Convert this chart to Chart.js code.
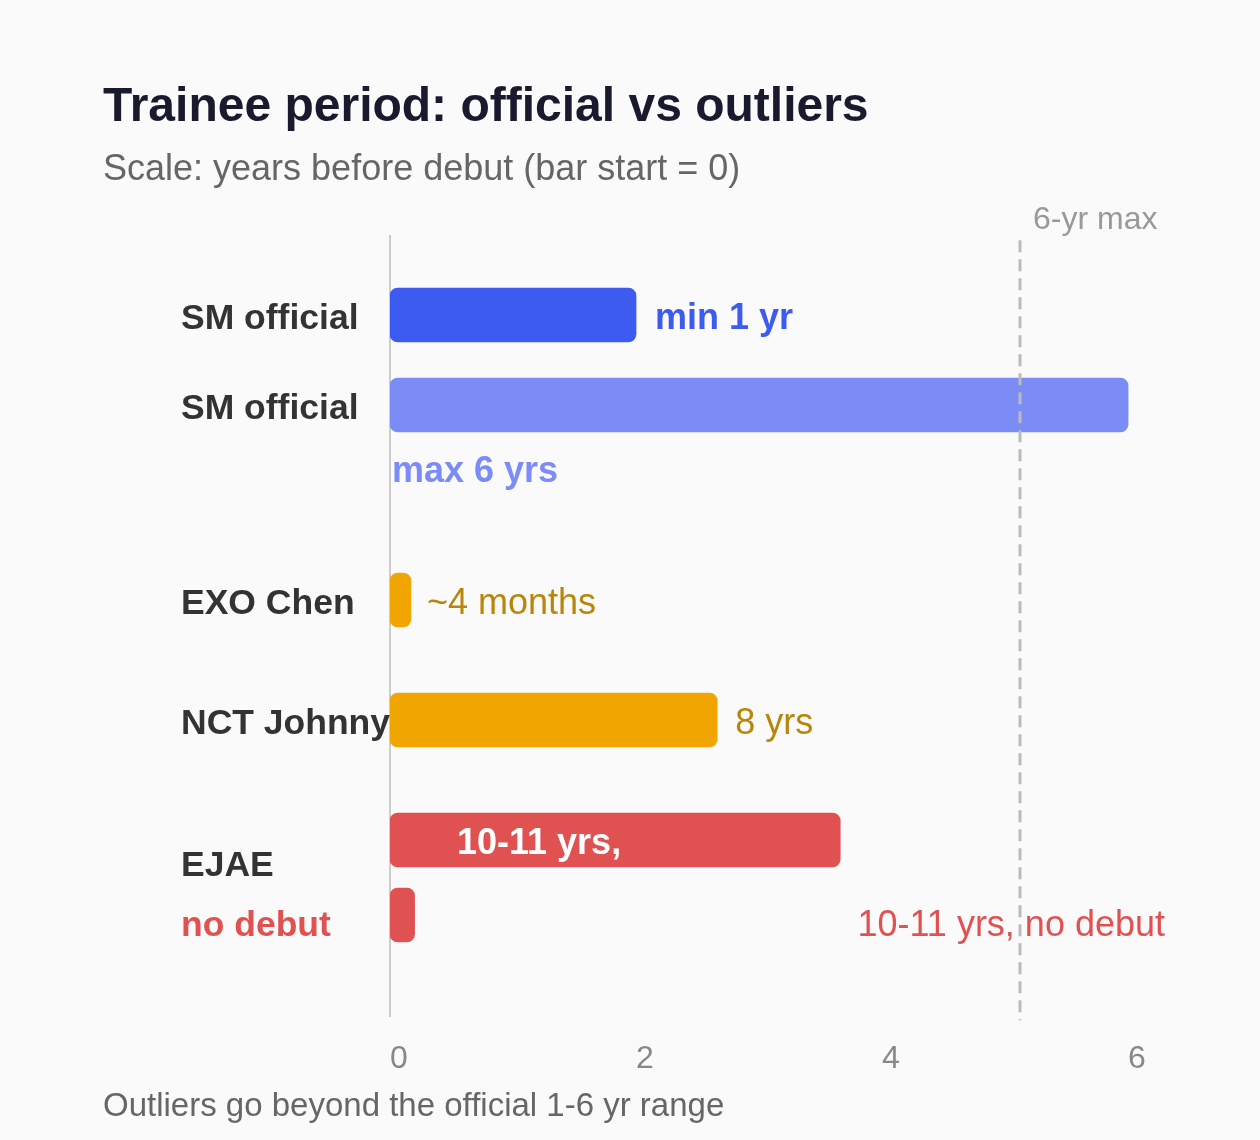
<!DOCTYPE html>
<html>
<head>
<meta charset="utf-8">
<script src="https://cdn.jsdelivr.net/npm/chart.js@4.4.1/dist/chart.umd.min.js"></script>
<style>
  html, body { margin: 0; padding: 0; background: #fafafa; }
  canvas { display: block; }
</style>
</head>
<body>
<canvas id="c" width="1260" height="1140"></canvas>
<script>
// ---- data ----
const categories = ["SM official", "SM official", "EXO Chen", "NCT Johnny", "EJAE", "no debut"];
const years = [2, 6, 0.17, 2.66, 3.66, 0.2];
const valueLabels = ["min 1 yr", "max 6 yrs", "~4 months", "8 yrs", "10-11 yrs,", "10-11 yrs, no debut"];
const xTicks = [0, 2, 4, 6];
const xMax = 6.3;
const maxMarker = 5.12;
const maxMarkerLabel = "6-yr max";
const titleText = "Trainee period: official vs outliers";
const subtitleText = "Scale: years before debut (bar start = 0)";
const footerText = "Outliers go beyond the official 1-6 yr range";

// ---- layout / styles ----
const FONT = "'Liberation Sans', Arial, Helvetica, sans-serif";
const SLOT_COUNT = 104;
const barSlots = [10, 22, 48, 64, 80, 90];
const labelSlots = [10, 22, 48, 64, 83, 91];
const barColors = ["#3d5af1", "#7b8cf7", "#f0a500", "#f0a500", "#e05252", "#e05252"];
const catColors = ["#333333", "#333333", "#333333", "#333333", "#333333", "#e05252"];
const valueStyles = [
  { place: "right", dx: 19, dy: 0, color: "#3d5af1", weight: "bold" },
  { place: "below", dx: 2, dy: 63, color: "#7b8cf7", weight: "bold" },
  { place: "right", dx: 16, dy: 0, color: "#b8860b", weight: "normal" },
  { place: "right", dx: 18, dy: 0, color: "#b8860b", weight: "normal" },
  { place: "inside", dx: 67, dy: 0, color: "#ffffff", weight: "bold" },
  { place: "edge", dx: 0, dy: 7, color: "#e05252", weight: "normal" }
];

const slotLabels = Array.from({ length: SLOT_COUNT }, () => "");
const slotCat = Array.from({ length: SLOT_COUNT }, () => -1);
categories.forEach((c, i) => { slotLabels[labelSlots[i]] = c; slotCat[labelSlots[i]] = i; });
const slotValues = Array.from({ length: SLOT_COUNT }, () => null);
const slotBar = Array.from({ length: SLOT_COUNT }, () => -1);
years.forEach((v, i) => { slotValues[barSlots[i]] = v; slotBar[barSlots[i]] = i; });

const bgPlugin = {
  id: "bg",
  beforeDraw(chart) {
    const ctx = chart.ctx;
    ctx.save();
    ctx.fillStyle = "#fafafa";
    ctx.fillRect(0, 0, chart.width, chart.height);
    ctx.restore();
  }
};

const textPlugin = {
  id: "texts",
  afterDraw(chart) {
    const ctx = chart.ctx;
    ctx.save();
    ctx.textAlign = "left";
    ctx.textBaseline = "alphabetic";
    ctx.fillStyle = "#1a1a2e";
    ctx.font = "bold 48px " + FONT;
    ctx.fillText(titleText, 103, 121);
    ctx.fillStyle = "#666666";
    ctx.font = "36px " + FONT;
    ctx.fillText(subtitleText, 103, 180);
    ctx.font = "33px " + FONT;
    ctx.fillText(footerText, 103, 1116);
    ctx.restore();
  }
};

const markerPlugin = {
  id: "marker",
  afterDatasetsDraw(chart) {
    const ctx = chart.ctx;
    const xs = chart.scales.x;
    const area = chart.chartArea;
    const px = Math.round(xs.getPixelForValue(maxMarker));
    ctx.save();
    ctx.strokeStyle = "#bbbbbb";
    ctx.lineWidth = 3;
    ctx.setLineDash([12, 7]);
    ctx.beginPath();
    ctx.moveTo(px, area.top + 4);
    ctx.lineTo(px, area.bottom + 4);
    ctx.stroke();
    ctx.setLineDash([]);
    ctx.fillStyle = "#999999";
    ctx.font = "32px " + FONT;
    ctx.textAlign = "left";
    ctx.textBaseline = "alphabetic";
    ctx.fillText(maxMarkerLabel, px + 13, 229);
    ctx.restore();
  }
};

const valuePlugin = {
  id: "values",
  afterDatasetsDraw(chart) {
    const ctx = chart.ctx;
    const meta = chart.getDatasetMeta(0);
    const area = chart.chartArea;
    ctx.save();
    ctx.textBaseline = "middle";
    barSlots.forEach((slot, i) => {
      const bar = meta.data[slot];
      const s = valueStyles[i];
      ctx.fillStyle = s.color;
      ctx.font = s.weight + " 36px " + FONT;
      let x, align = "left";
      if (s.place === "right") x = bar.x + s.dx;
      else if (s.place === "below") x = bar.base + s.dx;
      else if (s.place === "inside") x = bar.base + s.dx;
      else { x = area.right; align = "right"; }
      ctx.textAlign = align;
      ctx.fillText(valueLabels[i], x, bar.y + s.dy + 4);
    });
    ctx.restore();
  }
};

new Chart(document.getElementById("c"), {
  type: "bar",
  data: {
    labels: slotLabels,
    datasets: [{
      data: slotValues,
      backgroundColor: (c) => { const k = slotBar[c.dataIndex]; return k >= 0 ? barColors[k] : "transparent"; },
      borderRadius: 8,
      borderSkipped: false,
      barThickness: 54
    }]
  },
  options: {
    indexAxis: "y",
    responsive: false,
    animation: false,
    devicePixelRatio: 1,
    layout: { padding: { left: 181, top: 236.25, right: 95, bottom: 63.75 } },
    plugins: { legend: { display: false }, tooltip: { enabled: false }, title: { display: false } },
    scales: {
      x: {
        type: "linear",
        min: 0,
        max: xMax,
        grid: { display: false, drawTicks: false },
        border: { display: false },
        afterBuildTicks(scale) { scale.ticks = xTicks.map(v => ({ value: v })); },
        afterFit(scale) { scale.height = 60; },
        ticks: {
          align: "start",
          padding: 24,
          color: "#888888",
          font: { family: FONT, size: 32 }
        }
      },
      y: {
        type: "category",
        offset: true,
        grid: { display: false, drawTicks: false },
        border: { display: true, color: "#cccccc", width: 2 },
        afterFit(scale) { scale.width = 209; },
        ticks: {
          autoSkip: false,
          crossAlign: "far",
          padding: 0,
          labelOffset: 4,
          color: (c) => { const k = slotCat[c.index]; return k >= 0 ? catColors[k] : "#333333"; },
          font: { family: FONT, size: 35.5, weight: "bold" }
        }
      }
    }
  },
  plugins: [bgPlugin, markerPlugin, valuePlugin, textPlugin]
});
</script>
</body>
</html>
